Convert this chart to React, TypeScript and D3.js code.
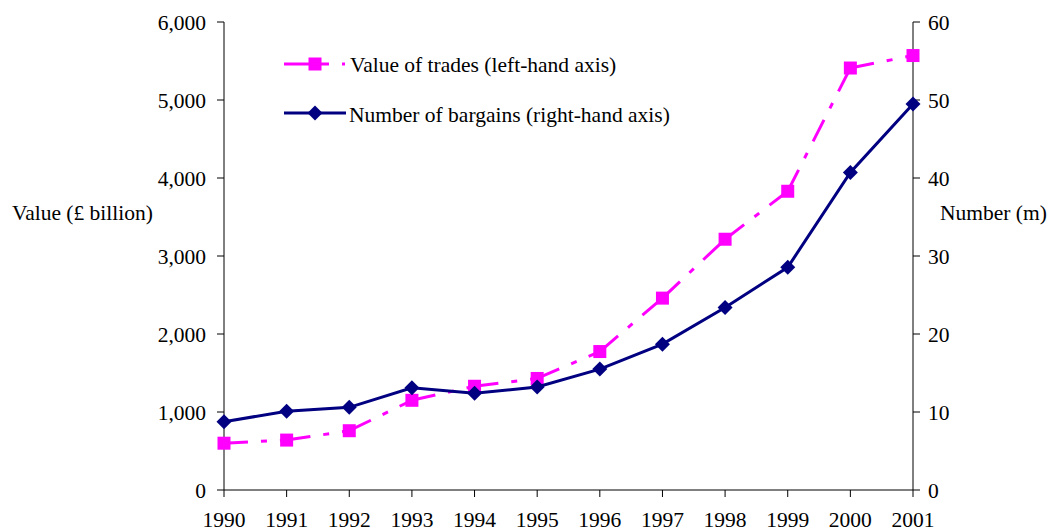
import React from "react";
import * as d3 from "d3";

const years = [1990, 1991, 1992, 1993, 1994, 1995, 1996, 1997, 1998, 1999, 2000, 2001];
const valueOfTrades = [600, 640, 760, 1150, 1330, 1430, 1775, 2460, 3215, 3830, 5410, 5570];
const numberOfBargains = [8.75, 10.1, 10.6, 13.1, 12.4, 13.2, 15.5, 18.7, 23.4, 28.55, 40.7, 49.5];
const leftTicks = [0, 1000, 2000, 3000, 4000, 5000, 6000];
const rightTicks = [0, 10, 20, 30, 40, 50, 60];

const W = 1049;
const H = 531;
const X0 = 224;
const X1 = 913;
const Y0 = 490;
const Y1 = 22;
const PINK = "#FF00FF";
const NAVY = "#000080";
const FONT = "Liberation Serif";
const FS = 21.5;
const ts: React.CSSProperties = { fontFamily: FONT, fontSize: FS };

export default function App() {
  const x = d3.scalePoint<number>().domain(years).range([X0, X1]);
  const yL = d3.scaleLinear().domain([0, 6000]).range([Y0, Y1]);
  const yR = d3.scaleLinear().domain([0, 60]).range([Y0, Y1]);
  const fmt = d3.format(",");

  const segs = years.slice(0, -1).map((yr, i) => ({
    x1: x(yr)!, y1: yL(valueOfTrades[i]), x2: x(years[i + 1])!, y2: yL(valueOfTrades[i + 1]),
  }));
  const navyLine = d3
    .line<number>()
    .x((_, i) => x(years[i])!)
    .y((d) => yR(d))(numberOfBargains)!;

  const sq = 13;
  const dm = 7.5;
  const diamond = (cx: number, cy: number) =>
    `M${cx},${cy - dm}L${cx + dm},${cy}L${cx},${cy + dm}L${cx - dm},${cy}Z`;

  return (
    <div style={{ position: "absolute", left: 0, top: 0 }}>
      <svg width={W} height={H} style={{ display: "block", background: "#fff" }}>
        {/* axes */}
        <line x1={X0} x2={X0} y1={Y1} y2={Y0} stroke="#000" strokeWidth={1} />
        <line x1={X1} x2={X1} y1={Y1} y2={Y0} stroke="#000" strokeWidth={1} />
        <line x1={X0} x2={X1} y1={Y0} y2={Y0} stroke="#000" strokeWidth={1} />
        {leftTicks.map((t) => (
          <g key={"l" + t}>
            <line x1={X0 - 7} x2={X0} y1={yL(t)} y2={yL(t)} stroke="#000" />
            <text x={206} y={yL(t) + 7.5} textAnchor="end" style={ts}>
              {fmt(t)}
            </text>
          </g>
        ))}
        {rightTicks.map((t) => (
          <g key={"r" + t}>
            <line x1={X1} x2={X1 + 7} y1={yR(t)} y2={yR(t)} stroke="#000" />
            <text x={928} y={yR(t) + 7.5} textAnchor="start" style={ts}>
              {t}
            </text>
          </g>
        ))}
        {years.map((yr) => (
          <g key={"x" + yr}>
            <line x1={x(yr)} x2={x(yr)} y1={Y0} y2={Y0 + 7} stroke="#000" />
            <text x={x(yr)} y={527} textAnchor="middle" style={ts}>
              {yr}
            </text>
          </g>
        ))}
        <text x={12} y={220} style={ts}>Value (£ billion)</text>
        <text x={940} y={220} style={ts}>Number (m)</text>

        {/* pink dash-dot series */}
        {segs.map((s, i) => (
          <line key={"s" + i} x1={s.x1} y1={s.y1} x2={s.x2} y2={s.y2}
            stroke={PINK} strokeWidth={3} strokeDasharray="24,13,6,13" />
        ))}
        {valueOfTrades.map((v, i) => (
          <rect key={"q" + i} x={x(years[i])! - sq / 2} y={yL(v) - sq / 2} width={sq} height={sq} fill={PINK} />
        ))}

        {/* navy series */}
        <path d={navyLine} fill="none" stroke={NAVY} strokeWidth={3} />
        {numberOfBargains.map((v, i) => (
          <path key={"d" + i} d={diamond(x(years[i])!, yR(v))} fill={NAVY} />
        ))}

        {/* legend */}
        <line x1={284} x2={346} y1={64} y2={64} stroke={PINK} strokeWidth={3} strokeDasharray="45,13,3,30" />
        <rect x={315 - sq / 2} y={64 - sq / 2} width={sq} height={sq} fill={PINK} />
        <text x={350} y={72} style={ts}>Value of trades (left-hand axis)</text>
        <line x1={284} x2={346} y1={113} y2={113} stroke={NAVY} strokeWidth={3} />
        <path d={diamond(315, 113)} fill={NAVY} />
        <text x={349} y={121.5} style={ts}>Number of bargains (right-hand axis)</text>
      </svg>
    </div>
  );
}
